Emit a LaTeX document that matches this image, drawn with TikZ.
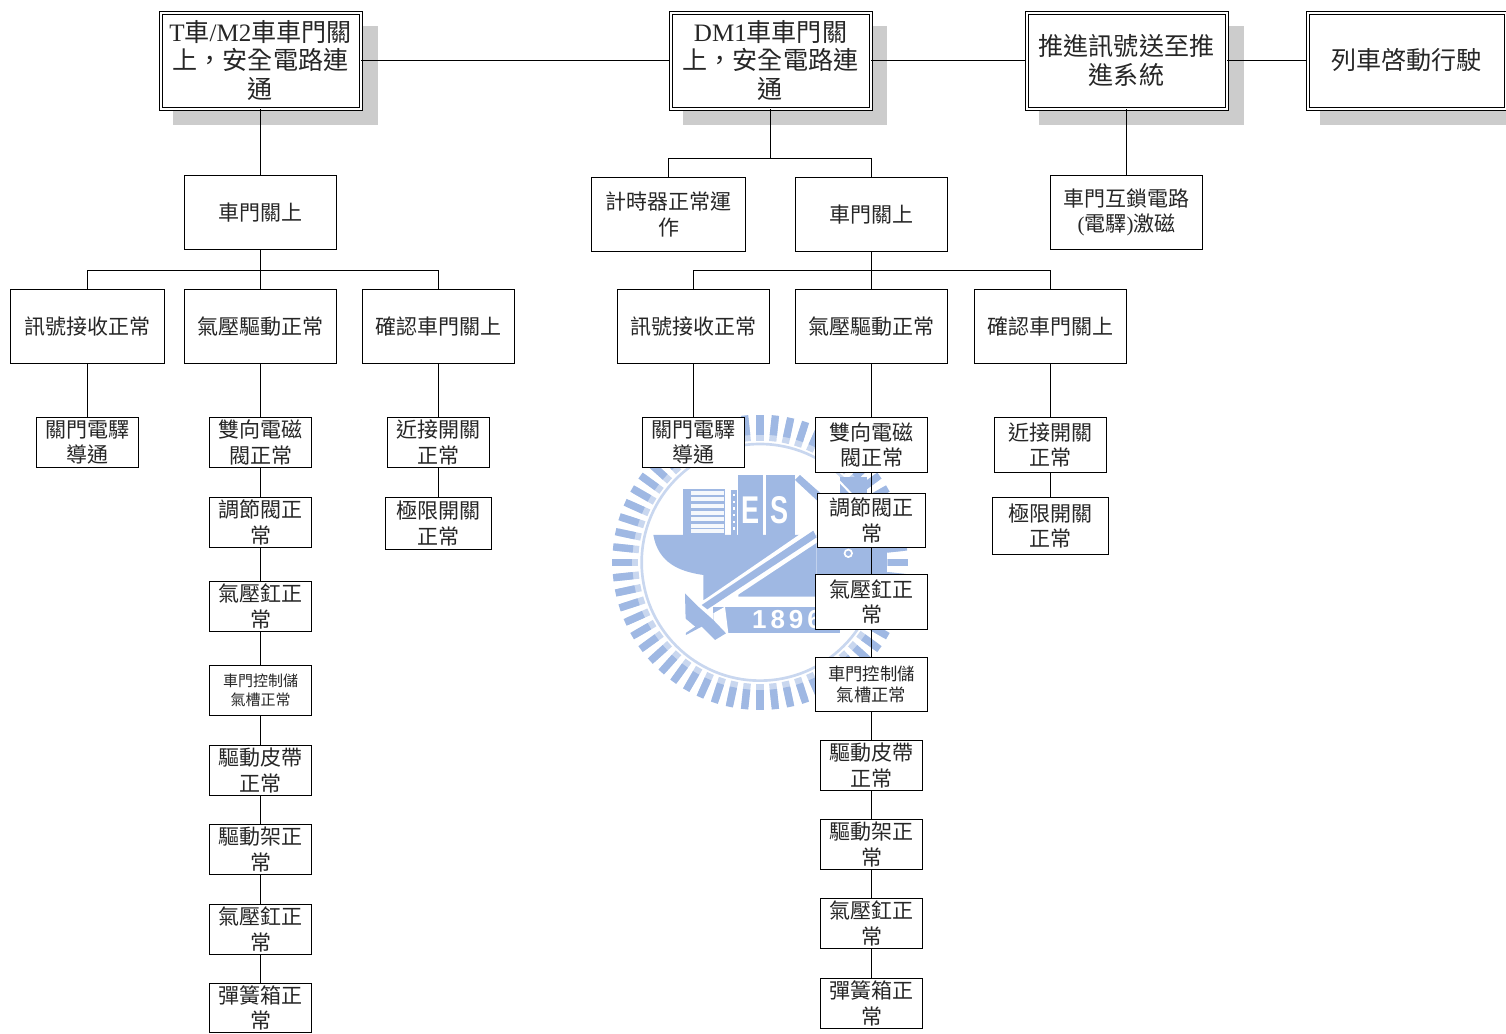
\documentclass[tikz,border=0pt]{standalone}
\usepackage{fontspec}
\usepackage{graphicx}
\setmainfont{Noto Sans CJK TC}
\newfontfamily\latn{Liberation Serif}
\newfontfamily\lsans{Liberation Sans}
\newcommand\lat[1]{{\latn #1}}
\definecolor{wmblue}{HTML}{9FB8E3}
\definecolor{wmlight}{HTML}{C9D7EF}
\tikzset{
  x=0.75pt,y=-0.75pt,
  plain/.style={draw=black,line width=0.75pt,fill=white,inner sep=0pt,align=center,text=black!85},
  big/.style={plain,double=white,double distance=1.5pt,font=\fontsize{18.8}{21.4}\selectfont},
  mid/.style={plain,font=\fontsize{15.75}{18.9}\selectfont},
  tiny/.style={plain,font=\fontsize{11.25}{14.2}\selectfont},
  small/.style={plain,font=\fontsize{13}{15.5}\selectfont},
  link/.style={draw=black,line width=0.75pt},
  shade/.style={fill=black!20,draw=none},
  wm/.style={fill=wmblue,draw=none},
  wmtext/.style={text=white,inner sep=0pt},
}
\newcommand\bx[7]{%
  \pgfmathsetmacro\bw{(#5-#3)*0.75}%
  \pgfmathsetmacro\bh{(#6-#4)*0.75}%
  \node[#1,minimum width=\bw pt,minimum height=\bh pt] (#2) at ({(#3+#5)/2+0.5},{(#4+#6)/2+0.5}) {#7};}
\begin{document}
\begin{tikzpicture}
\useasboundingbox (0,0) rectangle (1506,1033);
% watermark
\begin{scope}[shift={(600,400)},scale=0.3333]
  \foreach \a in {0,6,...,354}{
    \fill[wmlight,rotate around={\a:(480,487)}] (469,52) rectangle (491,122);
    \fill[wmblue,rotate around={\a:(480,487)}] (469,44) rectangle (491,104);
  }
  \draw[wmlight,line width=2pt] (480,487) circle (355);
  % hull
  \fill[wm] (160,405)--(650,405)--(650,590)--(415,590)--(415,565)--(310,600)--(310,525)
     .. controls (240,515) and (175,490) .. cycle;
  % stripes block
  \fill[wm] (250,268) rectangle (375,405);
  \foreach \y in {272,292,312,332,352,372,388}{\fill[white!90!wmblue] (272,\y) rectangle (372,\y+12);}
  \fill[wm] (393,270) rectangle (412,405);
  \foreach \y in {282,302,322,342,362,382}{\fill[white] (399,\y) rectangle (406,\y+7);}
  % E and S blocks
  \fill[wm] (415,225) rectangle (490,405);
  \fill[wm] (497,225) rectangle (585,405);
  \node[wmtext] (wE) at (452,332) {\fontsize{29}{30}\lsans\bfseries\scalebox{0.7}[1]{E}};
  \node[wmtext] (wS) at (540,332) {\fontsize{29}{30}\lsans\bfseries\scalebox{0.7}[1]{S}};
  % right-hand diagonal band and hull
  \fill[wm] (585,240)--(600,225)--(820,420)--(800,440)--cycle;
  \fill[white] (590,285)--(645,345)--(640,385)--(590,390)--cycle;
  \fill[wm] (650,440) rectangle (860,590);
  \fill[wm] (720,230) rectangle (800,330);
  \draw[white,line width=1.5pt] (700,225) -- (800,330);
  % wrench shaft
  \fill[white] (298,610)--(640,375)--(655,425)--(330,640)--cycle;
  \fill[wm] (305,615)--(640,392)--(650,412)--(322,628)--cycle;
  % 1896 band
  \fill[wm] (340,620) rectangle (720,700);
  \fill[white] (340,640)--(375,620)--(385,700)--(340,700)--cycle;
  \node[wmtext] (w1896) at (561,660) {\fontsize{19.5}{21}\lsans\bfseries 1\kern3pt 8\kern3pt 9\kern3pt 6};
  % wrench head
  \fill[wm] (255,580)--(295,620)--(340,660)--(378,700)--(345,720)--(305,680)--(258,705)--cycle;
  \fill[white] (255,655)--(285,680)--(255,700)--cycle;
  % small emblem on right
  \fill[white] (745,460) circle (14);
  \fill[wm] (745,460) circle (8);
\end{scope}
% shadows
\fill[shade] (173,26) rectangle (378,125);
\fill[shade] (683,26) rectangle (887,125);
\fill[shade] (1039,26) rectangle (1244,125);
\fill[shade] (1320,26) rectangle (1506,125);
% top row
\bx{big}{a}{160}{12}{360}{108}{\lat{T}車\lat{/M2}車車門關\\上，安全電路連\\通}
\bx{big}{b}{670}{12}{870}{108}{\lat{DM1}車車門關\\上，安全電路連\\通}
\bx{big}{c}{1026}{12}{1226}{108}{推進訊號送至推\\進系統}
\bx{big}{d}{1307}{12}{1505}{108}{列車啓動行駛}
% left tree
\bx{mid}{La}{184}{175}{336}{249}{車門關上}
\bx{mid}{Lb}{10}{289}{164}{363}{訊號接收正常}
\bx{mid}{Lc}{184}{289}{336}{363}{氣壓驅動正常}
\bx{mid}{Ld}{362}{289}{514}{363}{確認車門關上}
\bx{mid}{Le}{36}{417}{138}{467}{關門電驛\\導通}
\bx{mid}{L1}{209}{417}{311}{467}{雙向電磁\\閥正常}
\bx{mid}{L2}{209}{497}{311}{547}{調節閥正\\常}
\bx{mid}{L3}{209}{581}{311}{631}{氣壓釭正\\常}
\bx{tiny}{L4}{209}{665}{311}{715}{車門控制儲\\氣槽正常}
\bx{mid}{L5}{209}{745}{311}{795}{驅動皮帶\\正常}
\bx{mid}{L6}{209}{824}{311}{874}{驅動架正\\常}
\bx{mid}{L7}{209}{904}{311}{954}{氣壓釭正\\常}
\bx{mid}{L8}{209}{983}{311}{1032}{彈簧箱正\\常}
\bx{mid}{Lf}{387}{417}{489}{467}{近接開關\\正常}
\bx{mid}{Lg}{385}{497}{491}{549}{極限開關\\正常}
% middle tree
\bx{mid}{Ma}{591}{177}{745}{251}{計時器正常運\\作}
\bx{mid}{Mb}{795}{177}{947}{251}{車門關上}
\bx{mid}{Mc}{617}{289}{769}{363}{訊號接收正常}
\bx{mid}{Md}{795}{289}{947}{363}{氣壓驅動正常}
\bx{mid}{Me}{974}{289}{1126}{363}{確認車門關上}
\bx{mid}{Mf}{642}{417}{744}{467}{關門電驛\\導通}
\bx{mid}{M1}{815}{417}{927}{472}{雙向電磁\\閥正常}
\bx{mid}{M2}{817}{493}{925}{547}{調節閥正\\常}
\bx{mid}{M3}{815}{574}{927}{629}{氣壓釭正\\常}
\bx{small}{M4}{815}{657}{927}{711}{車門控制儲\\氣槽正常}
\bx{mid}{M5}{820}{740}{922}{790}{驅動皮帶\\正常}
\bx{mid}{M6}{820}{819}{922}{869}{驅動架正\\常}
\bx{mid}{M7}{820}{898}{922}{948}{氣壓釭正\\常}
\bx{mid}{M8}{820}{978}{922}{1028}{彈簧箱正\\常}
\bx{mid}{Mg}{994}{417}{1106}{472}{近接開關\\正常}
\bx{mid}{Mh}{992}{497}{1108}{554}{極限開關\\正常}
% right
\bx{mid}{Ra}{1050}{175}{1202}{249}{車門互鎖電路\\\lat{(}電驛\lat{)}激磁}
% buses
\coordinate (busL) at (260.5,270.5);
\coordinate (busT) at (770.5,158.5);
\coordinate (busM) at (871.5,270.5);
% connectors
\draw[link] (a.east) -- (b.west);
\draw[link] (b.east) -- (c.west);
\draw[link] (c.east) -- (d.west);
\draw[link] (a.south) -- (La.north);
\draw[link] (La.south) -- (Lc.north);
\draw[link] (Lb.north) |- (busL) -| (Ld.north);
\draw[link] (Lb.south) -- (Le.north);
\draw[link] (Lc.south) -- (L1.north);
\draw[link] (L1.south) -- (L2.north);
\draw[link] (L2.south) -- (L3.north);
\draw[link] (L3.south) -- (L4.north);
\draw[link] (L4.south) -- (L5.north);
\draw[link] (L5.south) -- (L6.north);
\draw[link] (L6.south) -- (L7.north);
\draw[link] (L7.south) -- (L8.north);
\draw[link] (Ld.south) -- (Lf.north);
\draw[link] (Lf.south) -- (Lg.north);
\draw[link] (b.south) -- (busT);
\draw[link] (Ma.north) |- (busT) -| (Mb.north);
\draw[link] (Mb.south) -- (Md.north);
\draw[link] (Mc.north) |- (busM) -| (Me.north);
\draw[link] (Mc.south) -- (Mf.north);
\draw[link] (Md.south) -- (M1.north);
\draw[link] (M1.south) -- (M2.north);
\draw[link] (M2.south) -- (M3.north);
\draw[link] (M3.south) -- (M4.north);
\draw[link] (M4.south) -- (M5.north);
\draw[link] (M5.south) -- (M6.north);
\draw[link] (M6.south) -- (M7.north);
\draw[link] (M7.south) -- (M8.north);
\draw[link] (Me.south) -- (Mg.north);
\draw[link] (Mg.south) -- (Mh.north);
\draw[link] (c.south) -- (Ra.north);
\end{tikzpicture}
\end{document}
